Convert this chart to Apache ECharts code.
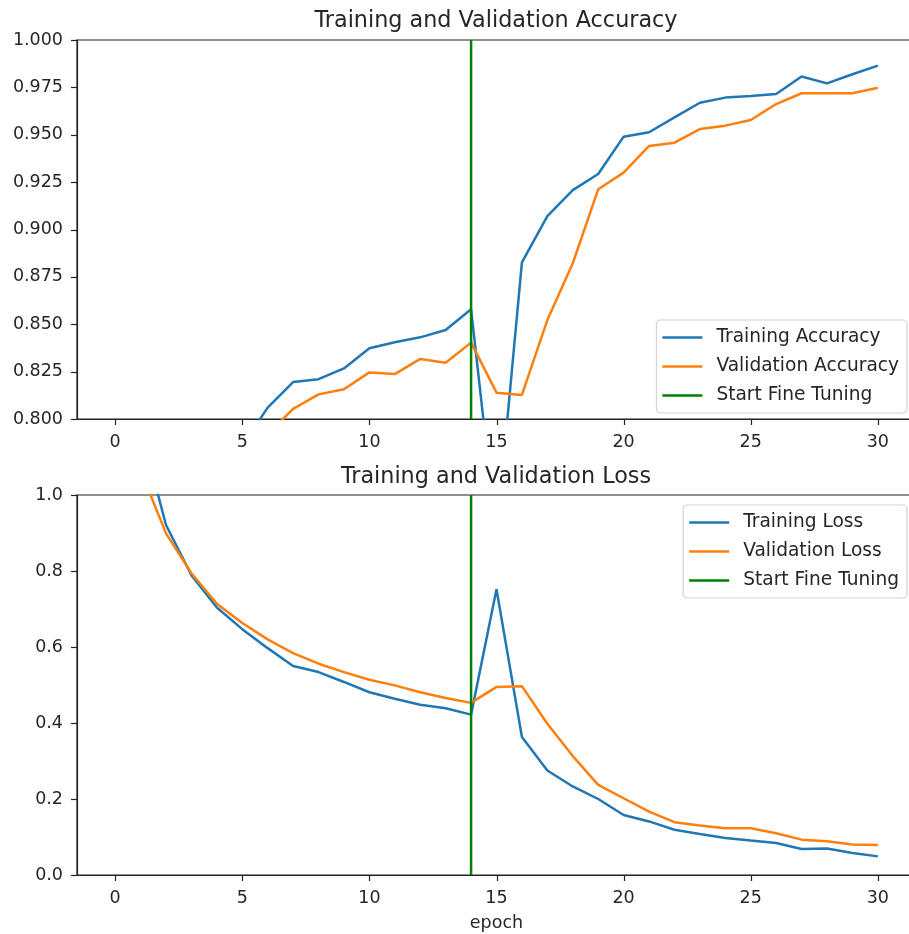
<!DOCTYPE html>
<html>
<head>
<meta charset="utf-8">
<script src="https://cdn.jsdelivr.net/npm/echarts@6/dist/echarts.min.js"></script>
<style>
html,body{margin:0;padding:0;background:#fff;overflow:hidden;}
#chart{width:909px;height:934px;}
</style>
</head>
<body>
<div id="chart"></div>
<script>
const epochs = [0,1,2,3,4,5,6,7,8,9,10,11,12,13,14,15,16,17,18,19,20,21,22,23,24,25,26,27,28,29,30];
const trainAcc = [0.52,0.64,0.70,0.745,0.77,0.786,0.806,0.8195,0.821,0.8267,0.8373,0.8405,0.8431,0.847,0.8579,0.738,0.8827,0.9071,0.9208,0.9293,0.949,0.9513,0.9592,0.9669,0.9696,0.9704,0.9715,0.9807,0.9771,0.9819,0.9865];
const valAcc = [0.60,0.68,0.72,0.75,0.77,0.782,0.792,0.8053,0.813,0.8157,0.8246,0.8237,0.8317,0.8297,0.8403,0.8139,0.8127,0.8522,0.8822,0.9212,0.93,0.9441,0.9458,0.953,0.9548,0.9578,0.9662,0.9719,0.9719,0.9719,0.9748];
const trainLoss = [1.9,1.176,0.921,0.789,0.704,0.647,0.597,0.55,0.534,0.508,0.481,0.464,0.448,0.439,0.422,0.752,0.363,0.275,0.233,0.2,0.158,0.141,0.119,0.108,0.0975,0.0905,0.0843,0.0685,0.070,0.058,0.049];
const valLoss = [1.35,1.065,0.899,0.794,0.714,0.663,0.620,0.584,0.556,0.534,0.514,0.499,0.481,0.466,0.453,0.495,0.497,0.398,0.313,0.237,0.202,0.167,0.139,0.13,0.123,0.123,0.110,0.093,0.089,0.080,0.079];
const fineTuneEpoch = 14;
const accYLim = [0.8, 1.0];
const lossYLim = [0.0, 1.0];
const xLim = [-1.5, 31.5];
const xTicks = [0,5,10,15,20,25,30];
const accYTicks = [0.8,0.825,0.85,0.875,0.9,0.925,0.95,0.975,1.0];
const lossYTicks = [0.0,0.2,0.4,0.6,0.8,1.0];

const FONT = 'DejaVu Sans';
const TXT = '#262626';
const AXC = '#222';
const BLUE = '#1f77b4', ORANGE = '#ff7f0e', GREEN = '#008000';
const TICK_LEN = 6;

function pairs(ys){ return epochs.map((e,i)=>[e, ys[i]]); }

function xAxis(idx, withName){
  const a = {
    type:'value', gridIndex:idx, min:xLim[0], max:xLim[1], position:'bottom',
    axisLine:{show:true, onZero:false, lineStyle:{color:AXC, width:1.2}},
    axisTick:{show:false},
    axisLabel:{show:true, customValues:xTicks, margin:14, fontFamily:FONT, fontSize:17.5, color:TXT},
    splitLine:{show:false}
  };
  if(withName){
    a.name='epoch'; a.nameLocation='middle'; a.nameGap=39;
    a.nameTextStyle={fontFamily:FONT, fontSize:17.5, color:TXT};
  }
  return a;
}
function yAxis(idx, lim, ticks, dec){
  return {
    type:'value', gridIndex:idx, min:lim[0], max:lim[1], position:'left',
    axisLine:{show:true, onZero:false, lineStyle:{color:AXC, width:1.2}},
    axisTick:{show:false},
    axisLabel:{show:true, customValues:ticks, margin:14, fontFamily:FONT, fontSize:17.5, color:TXT,
      formatter:v=>Number(v).toFixed(dec)},
    splitLine:{show:false}
  };
}
function line(name, data, color, idx){
  return {type:'line', name, data, xAxisIndex:idx, yAxisIndex:idx, showSymbol:false, symbol:'none',
    color, lineStyle:{color, width:2.5}, clip:true, animation:false};
}
function legend(names, top){
  return {
    data:names, orient:'vertical', right:2, top, icon:'rect', itemWidth:40, itemHeight:2.5,
    itemGap:10, padding:[8,8,8,6], backgroundColor:'rgba(255,255,255,0.85)',
    borderColor:'#d3d3d3', borderWidth:1.2, borderRadius:4,
    textStyle:{fontFamily:FONT, fontSize:18.6, color:TXT, lineHeight:18, padding:[0,0,0,9]},
    selectedMode:false
  };
}

const chart = echarts.init(document.getElementById('chart'), null, {renderer:'canvas'});
chart.setOption({
  animation:false,
  backgroundColor:'#fff',
  title:[
    {text:'Training and Validation Accuracy', left:496, top:10, textAlign:'center', padding:0,
     textStyle:{fontFamily:FONT, fontSize:22.3, fontWeight:'normal', color:TXT}},
    {text:'Training and Validation Loss', left:496, top:466, textAlign:'center', padding:0,
     textStyle:{fontFamily:FONT, fontSize:22.3, fontWeight:'normal', color:TXT}}
  ],
  grid:[
    {left:77, width:839, top:40, height:379, show:true, borderColor:AXC, borderWidth:1.2,
     backgroundColor:'transparent', outerBoundsMode:'none', containLabel:false},
    {left:77, width:839, top:495, height:380, show:true, borderColor:AXC, borderWidth:1.2,
     backgroundColor:'transparent', outerBoundsMode:'none', containLabel:false}
  ],
  xAxis:[xAxis(0,false), xAxis(1,true)],
  yAxis:[yAxis(0, accYLim, accYTicks, 3), yAxis(1, lossYLim, lossYTicks, 1)],
  legend:[
    legend(['Training Accuracy','Validation Accuracy','Start Fine Tuning'], 320),
    legend(['Training Loss','Validation Loss','Start Fine Tuning'], 505)
  ],
  series:[
    line('Training Accuracy', pairs(trainAcc), BLUE, 0),
    line('Validation Accuracy', pairs(valAcc), ORANGE, 0),
    line('Start Fine Tuning', [[fineTuneEpoch, accYLim[0]],[fineTuneEpoch, accYLim[1]]], GREEN, 0),
    line('Training Loss', pairs(trainLoss), BLUE, 1),
    line('Validation Loss', pairs(valLoss), ORANGE, 1),
    line('Start Fine Tuning', [[fineTuneEpoch, lossYLim[0]],[fineTuneEpoch, lossYLim[1]]], GREEN, 1)
  ]
});

// Outward tick marks, positioned through the chart's own axis scales
function tickGraphics(gridIndex, ylim, yticks){
  const els = [];
  xTicks.forEach(t=>{
    const p = chart.convertToPixel({gridIndex}, [t, ylim[0]]);
    const x = Math.round(p[0]) + 0.5;
    els.push({type:'line', z:100, silent:true,
      shape:{x1:x, y1:p[1], x2:x, y2:p[1] + TICK_LEN},
      style:{stroke:AXC, lineWidth:1.2}});
  });
  yticks.forEach(t=>{
    const p = chart.convertToPixel({gridIndex}, [xLim[0], t]);
    const y = Math.round(p[1]) + 0.5;
    els.push({type:'line', z:100, silent:true,
      shape:{x1:p[0] - TICK_LEN, y1:y, x2:p[0], y2:y},
      style:{stroke:AXC, lineWidth:1.2}});
  });
  return els;
}
chart.setOption({
  graphic:{elements:[].concat(tickGraphics(0, accYLim, accYTicks), tickGraphics(1, lossYLim, lossYTicks))}
});
</script>
</body>
</html>
